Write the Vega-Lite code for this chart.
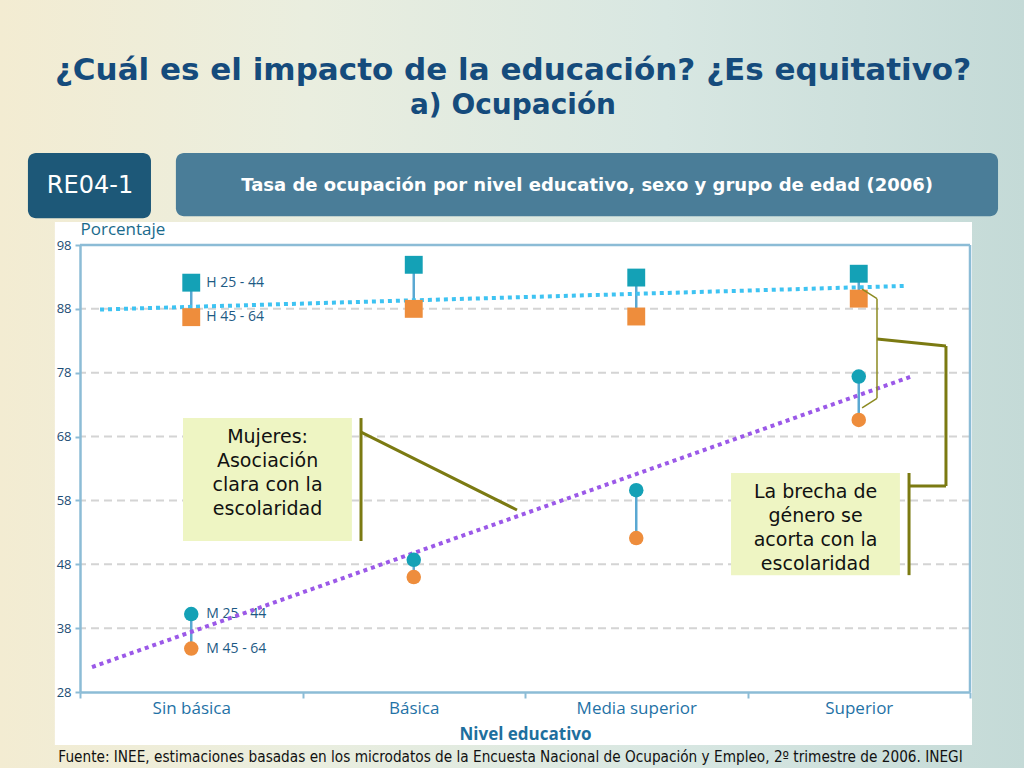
{
  "$schema": "https://vega.github.io/schema/vega-lite/v6.json",
  "width": 890,
  "height": 447,
  "autosize": {"type": "none"},
  "padding": {"left": 80, "top": 245, "right": 54, "bottom": 76},
  "background": "#dce8e4",
  "config": {"view": {"stroke": null}},
  "title": {
    "text": "¿Cuál es el impacto de la educación? ¿Es equitativo?",
    "subtitle": "a) Ocupación",
    "anchor": "middle",
    "frame": "group",
    "offset": -121,
    "dx": -12,
    "font": "DejaVu Sans",
    "fontSize": 31,
    "fontWeight": "bold",
    "color": "#154b7c",
    "subtitleFont": "DejaVu Sans",
    "subtitleFontSize": 28,
    "subtitleFontWeight": "bold",
    "subtitleColor": "#154b7c",
    "subtitlePadding": 5,
    "zindex": 1
  },
  "datasets": {
    "puntos": [
      {"nivel": "Sin básica", "pos": 0.5, "sexo": "H", "grupo": "25 - 44", "serie": "H 25 - 44", "valor": 92.1},
      {"nivel": "Sin básica", "pos": 0.5, "sexo": "H", "grupo": "45 - 64", "serie": "H 45 - 64", "valor": 86.7},
      {"nivel": "Sin básica", "pos": 0.5, "sexo": "M", "grupo": "25 - 44", "serie": "M 25 - 44", "valor": 40.2},
      {"nivel": "Sin básica", "pos": 0.5, "sexo": "M", "grupo": "45 - 64", "serie": "M 45 - 64", "valor": 34.8},
      {"nivel": "Básica", "pos": 1.5, "sexo": "H", "grupo": "25 - 44", "serie": "H 25 - 44", "valor": 94.9},
      {"nivel": "Básica", "pos": 1.5, "sexo": "H", "grupo": "45 - 64", "serie": "H 45 - 64", "valor": 88.0},
      {"nivel": "Básica", "pos": 1.5, "sexo": "M", "grupo": "25 - 44", "serie": "M 25 - 44", "valor": 48.7},
      {"nivel": "Básica", "pos": 1.5, "sexo": "M", "grupo": "45 - 64", "serie": "M 45 - 64", "valor": 46.0},
      {"nivel": "Media superior", "pos": 2.5, "sexo": "H", "grupo": "25 - 44", "serie": "H 25 - 44", "valor": 92.9},
      {"nivel": "Media superior", "pos": 2.5, "sexo": "H", "grupo": "45 - 64", "serie": "H 45 - 64", "valor": 86.8},
      {"nivel": "Media superior", "pos": 2.5, "sexo": "M", "grupo": "25 - 44", "serie": "M 25 - 44", "valor": 59.6},
      {"nivel": "Media superior", "pos": 2.5, "sexo": "M", "grupo": "45 - 64", "serie": "M 45 - 64", "valor": 52.1},
      {"nivel": "Superior", "pos": 3.5, "sexo": "H", "grupo": "25 - 44", "serie": "H 25 - 44", "valor": 93.5},
      {"nivel": "Superior", "pos": 3.5, "sexo": "H", "grupo": "45 - 64", "serie": "H 45 - 64", "valor": 89.6},
      {"nivel": "Superior", "pos": 3.5, "sexo": "M", "grupo": "25 - 44", "serie": "M 25 - 44", "valor": 77.4},
      {"nivel": "Superior", "pos": 3.5, "sexo": "M", "grupo": "45 - 64", "serie": "M 45 - 64", "valor": 70.6}
    ],
    "tendencias": [
      {"serie": "Hombres", "x": 0.09, "y": 87.9},
      {"serie": "Hombres", "x": 3.72, "y": 91.6},
      {"serie": "Mujeres", "x": 0.054, "y": 31.9},
      {"serie": "Mujeres", "x": 3.744, "y": 77.5}
    ],
    "rejilla": [{"g": 38}, {"g": 48}, {"g": 58}, {"g": 68}, {"g": 78}, {"g": 88}],
    "uno": [{}]
  },
  "layer": [
    {
      "data": {"name": "uno"},
      "mark": {"type": "rect", "color": {"gradient": "linear", "x1": 0, "y1": 0, "x2": 1, "y2": 0, "stops": [{"offset": 0, "color": "#f3ecd2"}, {"offset": 0.3, "color": "#eaeedf"}, {"offset": 0.65, "color": "#d8e7e2"}, {"offset": 1, "color": "#c4dad7"}]}},
      "encoding": {
        "x": {"datum": -0.36, "type": "quantitative", "scale": {"domain": [0, 4], "nice": false, "zero": false},
          "axis": {
            "values": [0, 0.5, 1, 1.5, 2, 2.5, 3, 3.5, 4],
            "labelExpr": "datum.value == 0.5 ? 'Sin básica' : datum.value == 1.5 ? 'Básica' : datum.value == 2.5 ? 'Media superior' : datum.value == 3.5 ? 'Superior' : ''",
            "labelOverlap": false, "labelFlush": false,
            "tickOpacity": {"condition": {"test": "datum.value % 1 === 0", "value": 1}, "value": 0},
            "tickSize": 6, "tickColor": "#8cbcd6", "tickWidth": 2,
            "domainColor": "#8cbcd6", "domainWidth": 2.5,
            "labelFont": "Open Sans", "labelFontSize": 17, "labelColor": "#1f72a6", "labelPadding": 2,
            "title": "Nivel educativo", "titleFont": "Open Sans", "titleFontSize": 17, "titleFontWeight": "bold", "titleColor": "#1e6f9e", "titlePadding": 10,
            "grid": false, "zindex": 1
          }},
        "x2": {"datum": 4.245},
        "y": {"datum": 136.4, "type": "quantitative", "scale": {"domain": [28, 98], "nice": false, "zero": false},
          "axis": {
            "values": [28, 38, 48, 58, 68, 78, 88, 98],
            "tickSize": 5, "tickColor": "#8cbcd6", "tickWidth": 2,
            "domainColor": "#8cbcd6", "domainWidth": 2.5,
            "labelFont": "Open Sans", "labelFontSize": 13, "labelColor": "#1c4d74", "labelPadding": 4,
            "title": "Porcentaje", "titleAngle": 0, "titleX": 0, "titleY": -7, "titleAlign": "left", "titleBaseline": "bottom",
            "titleFont": "Open Sans", "titleFontSize": 17, "titleFontWeight": "normal", "titleColor": "#1a6a8c",
            "grid": false, "zindex": 1
          }},
        "y2": {"datum": 16}
      }
    },
    {
      "data": {"name": "uno"},
      "mark": {"type": "rect", "color": "#ffffff"},
      "encoding": {
        "x": {"datum": -0.113, "type": "quantitative", "scale": {"domain": [0, 4], "nice": false, "zero": false}},
        "x2": {"datum": 4.009},
        "y": {"datum": 101.6, "type": "quantitative", "scale": {"domain": [28, 98], "nice": false, "zero": false}},
        "y2": {"datum": 19.7}
      }
    },
    {
      "data": {"name": "rejilla"},
      "mark": {"type": "rule", "color": "#d4d4d4", "strokeWidth": 2, "strokeDash": [8, 5]},
      "encoding": {
        "y": {"field": "g", "type": "quantitative", "scale": {"domain": [28, 98], "nice": false, "zero": false}}
      }
    },
    {
      "data": {"name": "uno"},
      "mark": {"type": "rule", "color": "#8cbcd6", "strokeWidth": 2.5},
      "encoding": {
        "y": {"datum": 98, "type": "quantitative", "scale": {"domain": [28, 98], "nice": false, "zero": false}}
      }
    },
    {
      "data": {"name": "uno"},
      "mark": {"type": "rule", "color": "#8cbcd6", "strokeWidth": 2.5},
      "encoding": {
        "x": {"datum": 4, "type": "quantitative", "scale": {"domain": [0, 4], "nice": false, "zero": false}}
      }
    },
    {
      "data": {"name": "puntos"},
      "transform": [{"filter": "datum.nivel === 'Sin básica'"}],
      "mark": {"type": "text", "align": "left", "baseline": "middle", "dx": 15, "font": "Open Sans", "fontSize": 14, "color": "#1d5a84"},
      "encoding": {
        "x": {"field": "pos", "type": "quantitative", "scale": {"domain": [0, 4], "nice": false, "zero": false}},
        "y": {"field": "valor", "type": "quantitative", "scale": {"domain": [28, 98], "nice": false, "zero": false}},
        "text": {"field": "serie", "type": "nominal"}
      }
    },
    {
      "data": {"name": "puntos"},
      "mark": {"type": "rule", "color": "#5aa8d2", "strokeWidth": 2.5},
      "encoding": {
        "x": {"field": "pos", "type": "quantitative", "scale": {"domain": [0, 4], "nice": false, "zero": false}},
        "y": {"aggregate": "max", "field": "valor", "type": "quantitative", "scale": {"domain": [28, 98], "nice": false, "zero": false}},
        "y2": {"aggregate": "min", "field": "valor"},
        "detail": {"field": "sexo", "type": "nominal"}
      }
    },
    {
      "data": {"name": "tendencias"},
      "mark": {"type": "line", "strokeWidth": 4, "strokeDash": [4, 4]},
      "encoding": {
        "x": {"field": "x", "type": "quantitative", "scale": {"domain": [0, 4], "nice": false, "zero": false}},
        "y": {"field": "y", "type": "quantitative", "scale": {"domain": [28, 98], "nice": false, "zero": false}},
        "stroke": {"field": "serie", "type": "nominal", "scale": {"domain": ["Hombres", "Mujeres"], "range": ["#3ec3f2", "#9b59e8"]}, "legend": null}
      }
    },
    {
      "data": {"name": "puntos"},
      "mark": {"type": "point", "filled": true, "opacity": 1, "strokeWidth": 0},
      "encoding": {
        "x": {"field": "pos", "type": "quantitative", "scale": {"domain": [0, 4], "nice": false, "zero": false}},
        "y": {"field": "valor", "type": "quantitative", "scale": {"domain": [28, 98], "nice": false, "zero": false}},
        "shape": {"field": "sexo", "type": "nominal", "scale": {"domain": ["H", "M"], "range": ["square", "circle"]}, "legend": null},
        "fill": {"field": "grupo", "type": "nominal", "scale": {"domain": ["25 - 44", "45 - 64"], "range": ["#14a1b6", "#ee8d3c"]}, "legend": null},
        "size": {"field": "sexo", "type": "nominal", "scale": {"domain": ["H", "M"], "range": [320, 210]}, "legend": null}
      }
    },
    {
      "data": {"name": "uno"},
      "mark": {"type": "rect", "color": "#eef5c3"},
      "encoding": {
        "x": {"datum": 0.463, "type": "quantitative", "scale": {"domain": [0, 4], "nice": false, "zero": false}},
        "x2": {"datum": 1.222},
        "y": {"datum": 70.9, "type": "quantitative", "scale": {"domain": [28, 98], "nice": false, "zero": false}},
        "y2": {"datum": 51.65}
      }
    },
    {
      "data": {"name": "uno"},
      "mark": {"type": "text", "align": "center", "baseline": "middle", "font": "DejaVu Sans", "fontSize": 19, "color": "#111111", "lineBreak": "\n", "lineHeight": 24},
      "encoding": {
        "x": {"datum": 0.843, "type": "quantitative", "scale": {"domain": [0, 4], "nice": false, "zero": false}},
        "y": {"datum": 67.9, "type": "quantitative", "scale": {"domain": [28, 98], "nice": false, "zero": false}},
        "text": {"value": "Mujeres:\nAsociación\nclara con la\nescolaridad"}
      }
    },
    {
      "data": {"name": "uno"},
      "mark": {"type": "rule", "color": "#7b7a12", "strokeWidth": 3},
      "encoding": {
        "x": {"datum": 1.263, "type": "quantitative", "scale": {"domain": [0, 4], "nice": false, "zero": false}},
        "y": {"datum": 70.9, "type": "quantitative", "scale": {"domain": [28, 98], "nice": false, "zero": false}},
        "y2": {"datum": 51.65}
      }
    },
    {
      "data": {"name": "uno"},
      "mark": {"type": "rule", "color": "#7b7a12", "strokeWidth": 3},
      "encoding": {
        "x": {"datum": 1.263, "type": "quantitative", "scale": {"domain": [0, 4], "nice": false, "zero": false}},
        "x2": {"datum": 1.964},
        "y": {"datum": 68.7, "type": "quantitative", "scale": {"domain": [28, 98], "nice": false, "zero": false}},
        "y2": {"datum": 56.5}
      }
    },
    {
      "data": {"name": "uno"},
      "mark": {"type": "rect", "color": "#eef5c3"},
      "encoding": {
        "x": {"datum": 2.926, "type": "quantitative", "scale": {"domain": [0, 4], "nice": false, "zero": false}},
        "x2": {"datum": 3.685},
        "y": {"datum": 62.3, "type": "quantitative", "scale": {"domain": [28, 98], "nice": false, "zero": false}},
        "y2": {"datum": 46.3}
      }
    },
    {
      "data": {"name": "uno"},
      "mark": {"type": "text", "align": "center", "baseline": "middle", "font": "DejaVu Sans", "fontSize": 19, "color": "#111111", "lineBreak": "\n", "lineHeight": 24},
      "encoding": {
        "x": {"datum": 3.306, "type": "quantitative", "scale": {"domain": [0, 4], "nice": false, "zero": false}},
        "y": {"datum": 59.3, "type": "quantitative", "scale": {"domain": [28, 98], "nice": false, "zero": false}},
        "text": {"value": "La brecha de\ngénero se\nacorta con la\nescolaridad"}
      }
    },
    {
      "data": {"name": "uno"},
      "mark": {"type": "rule", "color": "#7b7a12", "strokeWidth": 3},
      "encoding": {
        "x": {"datum": 3.726, "type": "quantitative", "scale": {"domain": [0, 4], "nice": false, "zero": false}},
        "y": {"datum": 62.3, "type": "quantitative", "scale": {"domain": [28, 98], "nice": false, "zero": false}},
        "y2": {"datum": 46.3}
      }
    },
    {
      "data": {"name": "uno"},
      "mark": {"type": "rule", "color": "#7b7a12", "strokeWidth": 3},
      "encoding": {
        "x": {"datum": 3.726, "type": "quantitative", "scale": {"domain": [0, 4], "nice": false, "zero": false}},
        "x2": {"datum": 3.892},
        "y": {"datum": 60.26, "type": "quantitative", "scale": {"domain": [28, 98], "nice": false, "zero": false}},
        "y2": {"datum": 60.26}
      }
    },
    {
      "data": {"name": "uno"},
      "mark": {"type": "rule", "color": "#7b7a12", "strokeWidth": 3},
      "encoding": {
        "x": {"datum": 3.892, "type": "quantitative", "scale": {"domain": [0, 4], "nice": false, "zero": false}},
        "x2": {"datum": 3.892},
        "y": {"datum": 60.26, "type": "quantitative", "scale": {"domain": [28, 98], "nice": false, "zero": false}},
        "y2": {"datum": 82.18}
      }
    },
    {
      "data": {"name": "uno"},
      "mark": {"type": "rule", "color": "#7b7a12", "strokeWidth": 3},
      "encoding": {
        "x": {"datum": 3.892, "type": "quantitative", "scale": {"domain": [0, 4], "nice": false, "zero": false}},
        "x2": {"datum": 3.582},
        "y": {"datum": 82.18, "type": "quantitative", "scale": {"domain": [28, 98], "nice": false, "zero": false}},
        "y2": {"datum": 83.28}
      }
    },
    {
      "data": {"name": "uno"},
      "mark": {"type": "rule", "color": "#8c8a20", "strokeWidth": 1.5},
      "encoding": {
        "x": {"datum": 3.515, "type": "quantitative", "scale": {"domain": [0, 4], "nice": false, "zero": false}},
        "x2": {"datum": 3.582},
        "y": {"datum": 91.1, "type": "quantitative", "scale": {"domain": [28, 98], "nice": false, "zero": false}},
        "y2": {"datum": 89.6}
      }
    },
    {
      "data": {"name": "uno"},
      "mark": {"type": "rule", "color": "#8c8a20", "strokeWidth": 1.5},
      "encoding": {
        "x": {"datum": 3.582, "type": "quantitative", "scale": {"domain": [0, 4], "nice": false, "zero": false}},
        "x2": {"datum": 3.582},
        "y": {"datum": 89.6, "type": "quantitative", "scale": {"domain": [28, 98], "nice": false, "zero": false}},
        "y2": {"datum": 74.0}
      }
    },
    {
      "data": {"name": "uno"},
      "mark": {"type": "rule", "color": "#8c8a20", "strokeWidth": 1.5},
      "encoding": {
        "x": {"datum": 3.582, "type": "quantitative", "scale": {"domain": [0, 4], "nice": false, "zero": false}},
        "x2": {"datum": 3.515},
        "y": {"datum": 74.0, "type": "quantitative", "scale": {"domain": [28, 98], "nice": false, "zero": false}},
        "y2": {"datum": 72.5}
      }
    },
    {
      "data": {"name": "uno"},
      "mark": {"type": "text", "align": "center", "baseline": "middle", "font": "DejaVu Sans Condensed", "fontSize": 15.2, "color": "#111111"},
      "encoding": {
        "x": {"datum": 1.935, "type": "quantitative", "scale": {"domain": [0, 4], "nice": false, "zero": false}},
        "y": {"datum": 17.8, "type": "quantitative", "scale": {"domain": [28, 98], "nice": false, "zero": false}},
        "text": {"value": "Fuente: INEE, estimaciones basadas en los microdatos de la Encuesta Nacional de Ocupación y Empleo, 2º trimestre de 2006. INEGI"}
      }
    },
    {
      "data": {"name": "uno"},
      "mark": {"type": "rect", "color": "#1d5878", "cornerRadius": 8},
      "encoding": {
        "x": {"datum": -0.234, "type": "quantitative", "scale": {"domain": [0, 4], "nice": false, "zero": false}},
        "x2": {"datum": 0.319},
        "y": {"datum": 112.4, "type": "quantitative", "scale": {"domain": [28, 98], "nice": false, "zero": false}},
        "y2": {"datum": 102.2}
      }
    },
    {
      "data": {"name": "uno"},
      "mark": {"type": "text", "align": "center", "baseline": "middle", "font": "DejaVu Sans", "fontSize": 24, "color": "#ffffff"},
      "encoding": {
        "x": {"datum": 0.045, "type": "quantitative", "scale": {"domain": [0, 4], "nice": false, "zero": false}},
        "y": {"datum": 107.3, "type": "quantitative", "scale": {"domain": [28, 98], "nice": false, "zero": false}},
        "text": {"value": "RE04-1"}
      }
    },
    {
      "data": {"name": "uno"},
      "mark": {"type": "rect", "cornerRadius": 8, "color": "#4a7d98"},
      "encoding": {
        "x": {"datum": 0.431, "type": "quantitative", "scale": {"domain": [0, 4], "nice": false, "zero": false}},
        "x2": {"datum": 4.126},
        "y": {"datum": 112.4, "type": "quantitative", "scale": {"domain": [28, 98], "nice": false, "zero": false}},
        "y2": {"datum": 102.5}
      }
    },
    {
      "data": {"name": "uno"},
      "mark": {"type": "text", "align": "center", "baseline": "middle", "font": "DejaVu Sans", "fontSize": 18, "fontWeight": "bold", "color": "#ffffff"},
      "encoding": {
        "x": {"datum": 2.279, "type": "quantitative", "scale": {"domain": [0, 4], "nice": false, "zero": false}},
        "y": {"datum": 107.3, "type": "quantitative", "scale": {"domain": [28, 98], "nice": false, "zero": false}},
        "text": {"value": "Tasa de ocupación por nivel educativo, sexo y grupo de edad (2006)"}
      }
    }
  ]
}
